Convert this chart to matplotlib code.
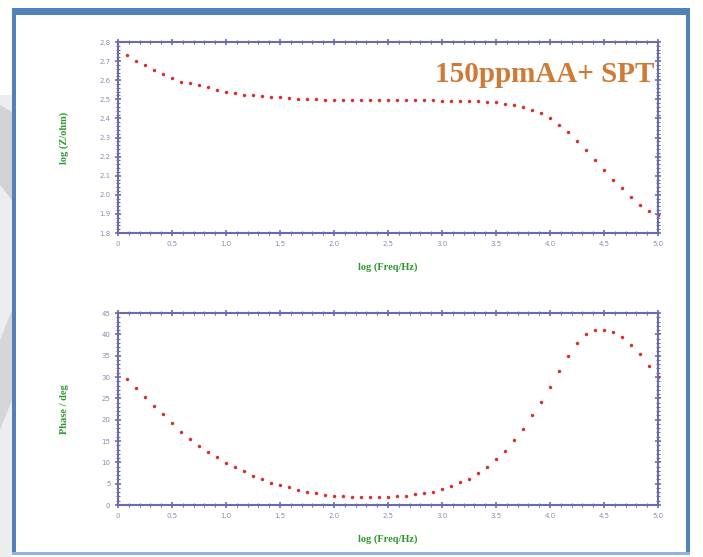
import matplotlib
matplotlib.use("Agg")
import matplotlib.pyplot as plt
from matplotlib.patches import Rectangle, Polygon
from matplotlib.ticker import MultipleLocator, FormatStrFormatter

# log(Freq/Hz), 12 points per decade
log_freq = [0.083, 0.167, 0.250, 0.333, 0.417, 0.500, 0.583, 0.667, 0.750, 0.833,
            0.917, 1.000, 1.083, 1.167, 1.250, 1.333, 1.417, 1.500, 1.583, 1.667,
            1.750, 1.833, 1.917, 2.000, 2.083, 2.167, 2.250, 2.333, 2.417, 2.500,
            2.583, 2.667, 2.750, 2.833, 2.917, 3.000, 3.083, 3.167, 3.250, 3.333,
            3.417, 3.500, 3.583, 3.667, 3.750, 3.833, 3.917, 4.000, 4.083, 4.167,
            4.250, 4.333, 4.417, 4.500, 4.583, 4.667, 4.750, 4.833, 4.917, 5.000]

log_z = [2.732, 2.703, 2.679, 2.654, 2.632, 2.614, 2.593, 2.585, 2.573, 2.562,
         2.550, 2.540, 2.534, 2.524, 2.520, 2.515, 2.512, 2.510, 2.507, 2.503,
         2.500, 2.499, 2.498, 2.498, 2.497, 2.497, 2.496, 2.496, 2.496, 2.495,
         2.495, 2.495, 2.494, 2.494, 2.494, 2.493, 2.493, 2.492, 2.491, 2.489,
         2.488, 2.484, 2.477, 2.472, 2.458, 2.446, 2.429, 2.403, 2.368, 2.328,
         2.281, 2.232, 2.182, 2.130, 2.078, 2.033, 1.986, 1.947, 1.916, 1.894]

phase = [29.5, 27.5, 25.3, 23.3, 21.3, 19.3, 17.2, 15.4, 13.8, 12.5,
         11.3, 9.9, 9.0, 8.0, 6.9, 6.1, 5.1, 4.6, 4.3, 3.5,
         3.0, 2.7, 2.3, 2.2, 2.1, 1.9, 1.9, 1.9, 1.9, 1.9,
         2.1, 2.2, 2.5, 2.7, 3.1, 3.7, 4.4, 5.3, 6.2, 7.6,
         9.0, 10.7, 12.7, 15.2, 17.9, 21.1, 24.2, 27.7, 31.4, 34.9,
         38.0, 40.0, 41.0, 41.1, 40.6, 39.4, 37.4, 35.3, 32.6, 30.0]

title = "150ppmAA+ SPT"
x_label = "log (Freq/Hz)"

W, H = 703, 557
SPINE = "#6a6ab0"
TICKTXT = "#8a8ab8"
GREEN = "#2e9a2e"
DOT = "#d83030"

fig = plt.figure(figsize=(W / 100, H / 100), dpi=100)
fig.patch.set_facecolor("white")


def px(x0, y0, x1, y1):
    """pixel box -> figure fraction rect (left, bottom, width, height)"""
    return [x0 / W, 1 - y1 / H, (x1 - x0) / W, (y1 - y0) / H]


# slide decoration on the left edge
fig.patches.append(Rectangle((0, 0), 12 / W, 1 - 95 / H, transform=fig.transFigure,
                             facecolor="#ededed", edgecolor="none", zorder=0))
fig.patches.append(Polygon([(0, 1 - 105 / H), (12 / W, 1 - 112 / H), (12 / W, 1 - 200 / H), (0, 1 - 185 / H)],
                           closed=True, transform=fig.transFigure, facecolor="#d2d2d2",
                           edgecolor="none", zorder=0))
fig.patches.append(Polygon([(0, 1 - 340 / H), (12 / W, 1 - 310 / H), (12 / W, 1 - 400 / H), (0, 1 - 430 / H)],
                           closed=True, transform=fig.transFigure, facecolor="#d6d6d6",
                           edgecolor="none", zorder=0))

# blue slide frame
for rect, col in [(px(12, 8, 690, 15), "#4f81bd"),
                  (px(12, 8, 16, 555), "#4f81bd"),
                  (px(686, 8, 690, 555), "#4f81bd"),
                  (px(12, 552, 690, 555), "#8db3e2")]:
    fig.patches.append(Rectangle((rect[0], rect[1]), rect[2], rect[3], transform=fig.transFigure,
                                 facecolor=col, edgecolor="none", zorder=1))


def style_axes(ax, ymajor, yminor, yfmt):
    for s in ax.spines.values():
        s.set_color(SPINE)
        s.set_linewidth(1.5)
    ax.set_xlim(0, 5)
    ax.xaxis.set_major_locator(MultipleLocator(0.5))
    ax.xaxis.set_minor_locator(MultipleLocator(0.1))
    ax.xaxis.set_major_formatter(lambda v, pos: "0" if abs(v) < 1e-9 else f"{v:.1f}")
    ax.yaxis.set_major_locator(MultipleLocator(ymajor))
    ax.yaxis.set_minor_locator(MultipleLocator(yminor))
    ax.yaxis.set_major_formatter(FormatStrFormatter(yfmt))
    ax.tick_params(which="both", direction="inout", top=True, right=True, colors=SPINE,
                   labelcolor=TICKTXT, labelsize=5, pad=3)
    ax.tick_params(which="major", length=5, width=1.2)
    ax.tick_params(which="minor", length=3, width=0.8)
    ax.set_xlabel(x_label, color=GREEN, fontweight="bold", fontsize=7.5, labelpad=11,
                  family="Liberation Serif")


ax1 = fig.add_axes(px(118, 42, 658, 233))
ax1.plot(log_freq, log_z, "o", color=DOT, markersize=2.5, markeredgewidth=0, clip_on=False)
ax1.set_ylim(1.8, 2.8)
style_axes(ax1, 0.1, 0.02, "%.1f")
ax1.set_ylabel("log (Z/ohm)", color=GREEN, fontweight="bold", fontsize=7.5, labelpad=22,
               family="Liberation Serif")
ax1.text(0.994, 0.83, title, transform=ax1.transAxes, ha="right", va="center",
         fontsize=21, fontweight="bold", color="#cf7a35", family="Liberation Serif")

ax2 = fig.add_axes(px(118, 313, 658, 505))
ax2.plot(log_freq, phase, "o", color=DOT, markersize=2.5, markeredgewidth=0, clip_on=False)
ax2.set_ylim(0, 45)
style_axes(ax2, 5, 1, "%d")
ax2.set_ylabel("Phase / deg", color=GREEN, fontweight="bold", fontsize=7.5, labelpad=23,
               family="Liberation Serif")

fig.savefig("out.png", dpi=100)
